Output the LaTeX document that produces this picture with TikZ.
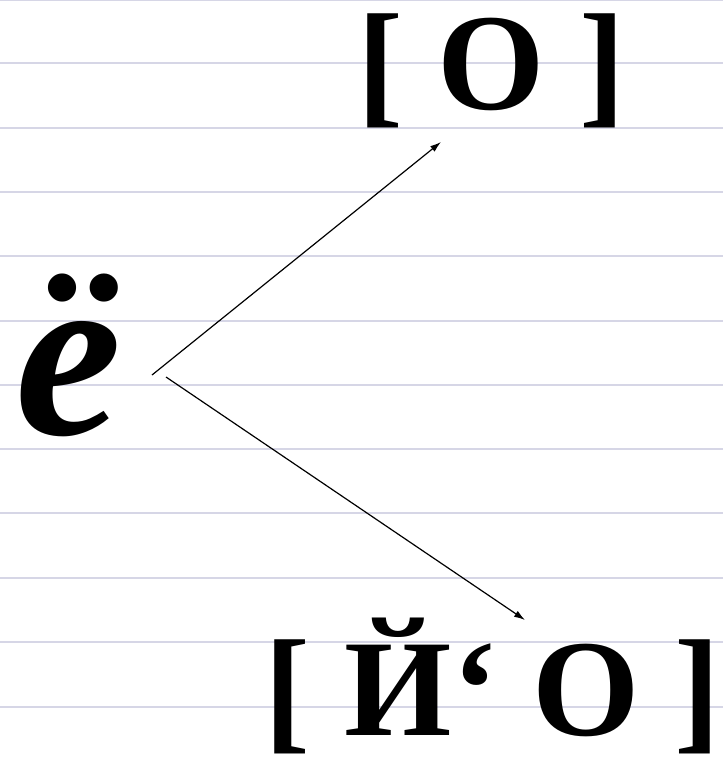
\documentclass[tikz,border=0pt]{standalone}
\usepackage{fontspec}
\newfontfamily\tnr{Liberation Serif}
\usetikzlibrary{arrows.meta}
\definecolor{ruling}{RGB}{214,214,230}
\tikzset{
  rule/.style={draw=ruling, line width=2pt},
  bigtxt/.style={inner sep=0pt, anchor=base west, font=\tnr\fontsize{138}{138}\selectfont\bfseries},
  lettertxt/.style={inner sep=0pt, anchor=base west, font=\tnr\fontsize{240}{240}\selectfont\bfseries\itshape},
  arr/.style={-{Latex[length=11pt,width=7pt]}, line width=1.2pt, black}
}
\begin{document}
\begin{tikzpicture}[x=1pt,y=-1pt]
\useasboundingbox (0,0) rectangle (723,765);
\fill[white] (0,0) rectangle (723,765);
\foreach \yy in {0.5,63,128,192,256,321,385,449,513,578,642,707}
  \draw[rule] (0,\yy) -- (723,\yy);
\node[lettertxt] (yo) at (15,434) {ё};
\node[bigtxt] (top) at (357,110) {[ О ]};
\node[bigtxt] (bot) at (264,735) {[ Й‘ О ]};
\coordinate (s1) at (152,375);
\coordinate (e1) at (441,142);
\coordinate (s2) at (166,377);
\coordinate (e2) at (525,620);
\draw[arr] (s1) -- (e1);
\draw[arr] (s2) -- (e2);
\end{tikzpicture}
\end{document}
